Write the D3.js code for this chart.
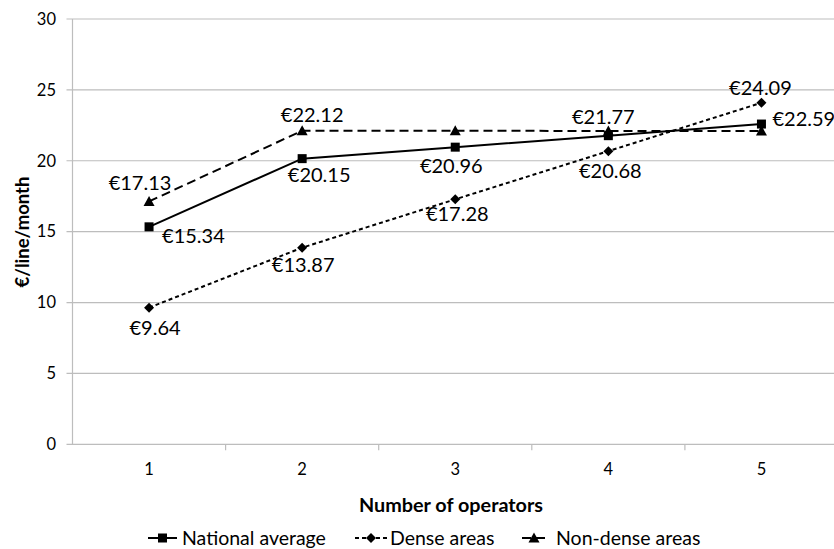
<!DOCTYPE html>
<html>
<head>
<meta charset="utf-8">
<script src="https://cdn.jsdelivr.net/npm/d3@7"></script>
<style>
  html, body { margin: 0; padding: 0; background: #fff; }
  svg { display: block; }
  text { font-family: Lato, "Open Sans", sans-serif; fill: #000; }
</style>
</head>
<body>
<svg id="chart" width="834" height="549"></svg>
<script>
// Monthly price per line by number of operators
const categories = ["1", "2", "3", "4", "5"];
const nationalAverage = [15.34, 20.15, 20.96, 21.77, 22.59];
const denseAreas      = [9.64, 13.87, 17.28, 20.68, 24.09];
const nonDenseAreas   = [17.13, 22.12, 22.12, 22.10, 22.10];
const yTicks = [0, 5, 10, 15, 20, 25, 30];

// Value label offsets from each marker (null = no label)
const nationalLabels = [[13, 9], [17, 16], [-4, 19], [-5, -19], [11, -5]];
const denseLabels    = [[6, 20], [1, 17], [2, 15], [2, 20], [-1, -15]];
const nonDenseLabels = [[-9, -18], [10, -16], null, null, null];

const series = [
  { name: "National average", values: nationalAverage, dash: null, marker: "square",
    labels: nationalLabels, anchors: ["start", "middle", "middle", "middle", "start"] },
  { name: "Dense areas", values: denseAreas, dash: "4,3", marker: "diamond",
    labels: denseLabels, anchors: ["middle", "middle", "middle", "middle", "middle"] },
  { name: "Non-dense areas", values: nonDenseAreas, dash: "9,5", marker: "triangle",
    labels: nonDenseLabels, anchors: ["middle", "middle", "middle", "middle", "middle"] }
];

const svg = d3.select("#chart");
const margin = { left: 72.5, top: 19, bottom: 444.3 };
const bandW = 153.1;

const x = d3.scaleBand().domain(categories)
  .range([margin.left, margin.left + bandW * categories.length]).padding(0);
const y = d3.scaleLinear().domain([0, 30]).range([margin.bottom, margin.top]);
const cx = c => x(c) + x.bandwidth() / 2;

const grid = "#bdbdbd";

// horizontal gridlines with left tick stubs
svg.append("g").selectAll("line").data(yTicks).join("line")
  .attr("x1", margin.left - 6).attr("x2", 834)
  .attr("y1", d => y(d)).attr("y2", d => y(d))
  .attr("stroke", grid).attr("stroke-width", 1.2);

// y axis line
svg.append("line")
  .attr("x1", margin.left).attr("x2", margin.left)
  .attr("y1", y(30)).attr("y2", y(0))
  .attr("stroke", grid).attr("stroke-width", 1.2);

// x axis tick marks at category boundaries
svg.append("g").selectAll("line").data(categories.slice(1)).join("line")
  .attr("x1", d => x(d)).attr("x2", d => x(d))
  .attr("y1", y(0)).attr("y2", y(0) + 6)
  .attr("stroke", grid).attr("stroke-width", 1.2);

// y tick labels
svg.append("g").selectAll("text").data(yTicks).join("text")
  .attr("x", 56).attr("y", d => y(d)).attr("dy", "0.35em")
  .attr("text-anchor", "end").attr("font-size", 16.5).text(d => d);

// x tick labels
svg.append("g").selectAll("text").data(categories).join("text")
  .attr("x", d => cx(d)).attr("y", 469).attr("dy", "0.35em")
  .attr("text-anchor", "middle").attr("font-size", 16.5).text(d => d);

// axis titles
svg.append("text").attr("transform", "translate(23,232) rotate(-90)")
  .attr("text-anchor", "middle").attr("dy", "0.35em")
  .attr("font-size", 18.5).attr("font-weight", "bold").text("€/line/month");
svg.append("text").attr("x", 451).attr("y", 505).attr("dy", "0.35em")
  .attr("text-anchor", "middle").attr("font-size", 19.8).attr("font-weight", "bold")
  .text("Number of operators");

// marker shapes
function drawMarker(g, type, px, py) {
  if (type === "square") {
    g.append("rect").attr("x", px - 4.5).attr("y", py - 4.5)
      .attr("width", 9).attr("height", 9).attr("fill", "#000");
  } else if (type === "diamond") {
    g.append("path").attr("d", `M${px},${py - 5}L${px + 5},${py}L${px},${py + 5}L${px - 5},${py}Z`)
      .attr("fill", "#000");
  } else {
    g.append("path").attr("d", `M${px},${py - 5.5}L${px + 5.5},${py + 4.5}L${px - 5.5},${py + 4.5}Z`)
      .attr("fill", "#000");
  }
}

const line = d3.line().x((d, i) => cx(categories[i])).y(d => y(d));

// draw back to front: non-dense, dense, national
[2, 1, 0].forEach(si => {
  const s = series[si];
  const g = svg.append("g");
  g.append("path").datum(s.values).attr("d", line)
    .attr("fill", "none").attr("stroke", "#000").attr("stroke-width", 2)
    .attr("stroke-dasharray", s.dash);
  s.values.forEach((v, i) => drawMarker(g, s.marker, cx(categories[i]), y(v)));
});

// value labels
series.forEach(s => {
  s.values.forEach((v, i) => {
    const off = s.labels[i];
    if (!off) return;
    svg.append("text")
      .attr("x", cx(categories[i]) + off[0]).attr("y", y(v) + off[1])
      .attr("dy", "0.35em").attr("text-anchor", s.anchors[i])
      .attr("font-size", 20).text("€" + v.toFixed(2));
  });
});

// legend
const legend = [
  { s: series[0], x1: 148, x2: 177, tx: 182 },
  { s: series[1], x1: 355, x2: 387, tx: 390 },
  { s: series[2], x1: 522, x2: 546, tx: 556 }
];
const ly = 538;
legend.forEach(l => {
  const g = svg.append("g");
  g.append("line").attr("x1", l.x1).attr("x2", l.x2).attr("y1", ly).attr("y2", ly)
    .attr("stroke", "#000").attr("stroke-width", 2).attr("stroke-dasharray", l.s.dash);
  drawMarker(g, l.s.marker, (l.x1 + l.x2) / 2, ly);
  g.append("text").attr("x", l.tx).attr("y", ly).attr("dy", "0.35em")
    .attr("font-size", 19.5).text(l.s.name);
});
</script>
</body>
</html>
